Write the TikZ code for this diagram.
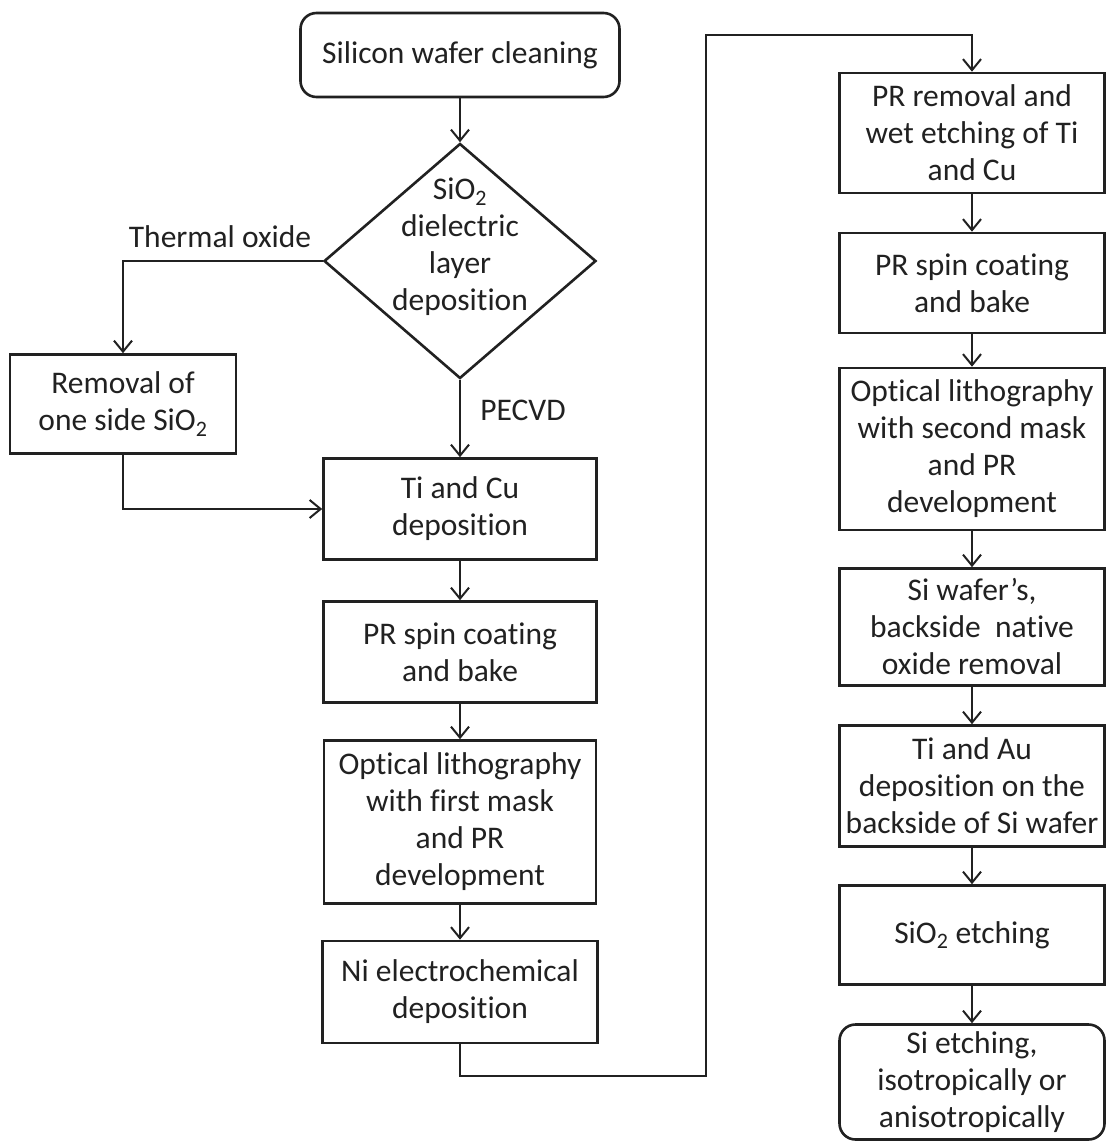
\documentclass[tikz,border=0pt]{standalone}
\usepackage{fontspec}
\setmainfont{Carlito}[Ligatures=NoCommon]
\usetikzlibrary{shapes.geometric,arrows.meta}
\definecolor{ink}{gray}{0.13}
\begin{document}
\begin{tikzpicture}[x=1pt,y=-1pt,
  every node/.style={font=\fontsize{31.5}{37}\selectfont, text=ink},
  proc/.style={draw=ink, line width=2.6pt, align=center, inner sep=1pt},
  term/.style={proc, rounded corners=16pt},
  dec/.style={draw=ink, line width=2.6pt, diamond, inner sep=0pt},
  arr/.style={draw=ink, line width=2pt, -{Straight Barb[length=11pt,width=18pt,line width=2pt]}},
  conn/.style={draw=ink, line width=2pt}]
\fill[white] (0,0) rectangle (1105,1142);
\useasboundingbox (0,0) rectangle (1105,1142);

% left column
\node[term, minimum width=319pt, minimum height=84pt] (start) at (460,55) {Silicon wafer cleaning};
\node[dec, minimum width=272pt, minimum height=235pt] (dia) at (460,261) {};
\node[align=center, inner sep=0pt] (diatext) at (460,247) {SiO\textsubscript{2}\\dielectric\\layer\\deposition};
\node[proc, minimum width=226pt, minimum height=99pt] (rem) at (123,404) {Removal of\\one side SiO\textsubscript{2}};
\node[proc, minimum width=273pt, minimum height=101pt] (ticu) at (460,509) {Ti and Cu\\deposition};
\node[proc, minimum width=273pt, minimum height=101pt] (pr1) at (460,652) {PR spin coating\\and bake};
\node[proc, minimum width=272pt, minimum height=163pt] (ol1) at (460,822) {Optical lithography\\with first mask\\and PR\\development};
\node[proc, minimum width=275pt, minimum height=102pt] (ni) at (460,992) {Ni electrochemical\\deposition};

\node (lthermal) at (220,237) {Thermal oxide};
\node (lpecvd) at (523,410) {PECVD};

% right column
\node[proc, minimum width=265pt, minimum height=120pt] (r1) at (972,133) {PR removal and\\wet etching of Ti\\and Cu};
\node[proc, minimum width=265pt, minimum height=100pt] (r2) at (972,283) {PR spin coating\\and bake};
\node[proc, minimum width=265pt, minimum height=162pt] (r3) at (972,449) {Optical lithography\\with second mask\\and PR\\development};
\node[proc, minimum width=265pt, minimum height=117pt] (r4) at (972,627) {Si wafer’s,\\backside~ native\\oxide removal};
\node[proc, minimum width=265pt, minimum height=121pt] (r5) at (972,786) {Ti and Au\\deposition on the\\backside of Si wafer};
\node[proc, minimum width=265pt, minimum height=99pt] (r6) at (972,935) {SiO\textsubscript{2} etching};
\node[term, minimum width=265pt, minimum height=115pt] (r7) at (972,1082) {Si etching,\\isotropically or\\anisotropically};

% connectors
\draw[arr] (start) -- (dia);
\draw[arr] (dia.west) -| (rem.north);
\draw[arr] (rem.south) |- (ticu.west);
\draw[arr] (dia.south) -- (ticu.north);
\draw[arr] (ticu) -- (pr1);
\draw[arr] (pr1) -- (ol1);
\draw[arr] (ol1) -- (ni);
\coordinate (lowc) at (706,1076);
\coordinate (topc) at (706,35);
\draw[arr] (ni.south) |- (lowc) -- (topc) -| (r1.north);
\draw[arr] (r1) -- (r2);
\draw[arr] (r2) -- (r3);
\draw[arr] (r3) -- (r4);
\draw[arr] (r4) -- (r5);
\draw[arr] (r5) -- (r6);
\draw[arr] (r6) -- (r7);
\end{tikzpicture}
\end{document}
